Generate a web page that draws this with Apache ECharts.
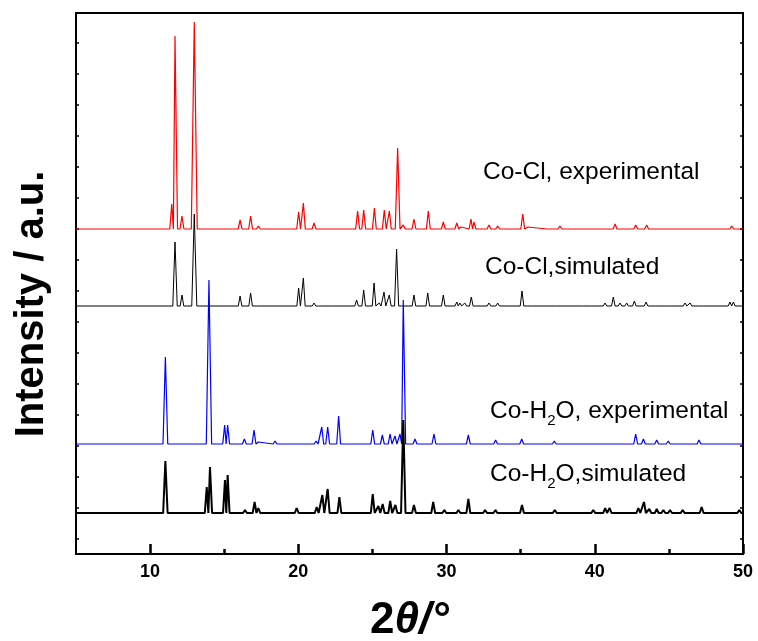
<!DOCTYPE html>
<html>
<head>
<meta charset="utf-8">
<script src="https://cdn.jsdelivr.net/npm/echarts@6/dist/echarts.min.js"></script>
<style>html,body{margin:0;padding:0;background:#fff}#c{width:758px;height:641px}</style>
</head>
<body>
<div id="c"></div>
<script>
// ---- data (2θ in degrees, intensity in a.u. above each trace's baseline, optional half-width) ----
const xTickLabels = [10, 20, 30, 40, 50];
const xMinorTicks = [15, 25, 35, 45];
const seriesNames = ['Co-Cl, experimental', 'Co-Cl,simulated', 'Co-H2O, experimental', 'Co-H2O,simulated'];
const seriesOffsets = [325, 248, 110, 41];

const coClExpPeaks = [[11.46,25],[11.68,193,0.17],[12.15,13],[12.98,207,0.2],[16.07,9],[16.78,13],[17.3,3],[20.02,17],[20.34,26],[21.06,6],[21.46,2],[22.25,2],[23.4,2],[24.0,18],[24.41,19],[25.13,21],[25.8,19],[26.14,18],[26.7,81,0.16],[27.08,4],[27.8,10],[28.77,18],[29.78,7],[30.69,6],[30.97,2],[31.65,10],[31.85,7],[32.86,4],[33.45,3],[35.14,15],[35.5,2],[36.9,2],[37.65,3],[39.19,2],[39.9,2],[40.76,2],[41.37,5],[42.15,2],[42.76,4],[43.5,4],[46.54,2],[47.5,2],[49.24,3]];

const coClSimPeaks = [[11.68,64,0.15],[12.15,11],[12.98,92,0.17],[16.07,10],[16.78,13],[17.3,2],[19.37,1],[20.02,18],[20.34,28],[21.06,3],[21.46,2],[22.2,1],[23.93,6],[24.41,16],[25.11,23],[25.46,3],[25.78,14],[26.14,11],[26.63,57,0.14],[27.08,2],[27.8,11],[28.73,13],[29.78,11],[30.69,4],[30.9,3],[31.23,3],[31.67,9],[32.86,3],[33.45,3],[35.09,15],[35.6,2],[37.54,2],[39.12,2],[39.9,2],[40.69,3],[41.25,9],[41.7,3],[42.15,3],[42.67,5],[43.46,4],[43.96,2],[44.63,2],[45.08,2],[46.09,3],[46.43,3],[47.21,2],[49.12,4],[49.35,4]];

const coH2OExpPeaks = [[11.03,87,0.16],[13.97,164,0.18],[15.03,19],[15.23,19],[16.36,5],[17.01,14],[17.3,2],[18.43,3],[19.89,2],[21.2,3],[21.58,17],[21.98,17],[22.72,28],[25.02,14],[25.67,9],[26.19,10],[26.52,8],[26.86,10],[27.08,144,0.16],[27.87,5],[29.15,10],[29.8,2],[30.9,2],[31.47,9],[32.26,2],[32.66,2],[33.31,4],[35.07,5],[36.53,2],[37.27,3],[39.1,2],[40.0,2],[41.03,2],[42.1,2],[42.76,10],[43.28,5],[44.18,4],[44.96,3],[45.93,2],[47.03,4],[49.41,2]];

const coH2OSimPeaks = [[11.03,52,0.15],[13.82,26],[14.04,46,0.14],[15.05,33],[15.23,38],[16.4,3],[17.05,11],[17.3,5],[18.45,2],[19.89,5],[21.24,6],[21.62,18],[21.98,24],[22.77,16],[25.02,19],[25.4,7],[25.69,9],[26.2,12],[26.55,8],[27.08,93,0.15],[27.8,8],[29.1,11],[29.85,3],[30.8,3],[31.47,14],[32.6,3],[33.3,3],[35.09,8],[37.3,3],[39.9,3],[40.7,5],[41.0,5],[42.1,2],[42.94,5],[43.32,11],[43.68,4],[44.18,4],[44.63,3],[45.08,3],[45.93,3],[47.21,6],[49.75,3]];

const X_MIN = 5, X_MAX = 50, Y_MAX = 541;

// build a stick-like trace: baseline, then each peak as foot-apex-foot
function buildTrace(peaks, offset, hwDefault) {
  const pts = [[X_MIN, offset]];
  for (let i = 0; i < peaks.length; i++) {
    const p = peaks[i][0], h = peaks[i][1], hw = peaks[i][2] || hwDefault;
    let l = p - hw, r = p + hw;
    if (i > 0) l = Math.max(l, (peaks[i - 1][0] + p) / 2);
    if (i < peaks.length - 1) r = Math.min(r, (p + peaks[i + 1][0]) / 2);
    pts.push([l, offset], [p, offset + h], [r, offset]);
  }
  pts.push([X_MAX, offset]);
  return pts;
}

const yTicks = [];
for (let k = 0; k < 17; k++) yTicks.push(15.5 + 31 * k);

const FONT = "'Liberation Sans', Arial, sans-serif";
const chart = echarts.init(document.getElementById('c'), null, {renderer: 'canvas'});

const lineStyles = [
  {color: '#ff0000', width: 1.2},
  {color: '#000000', width: 1},
  {color: '#0000ff', width: 1.2},
  {color: '#000000', width: 2}
];
const peakSets = [coClExpPeaks, coClSimPeaks, coH2OExpPeaks, coH2OSimPeaks];
const hwDefaults = [0.13, 0.12, 0.13, 0.13];

const subRich = {
  a: {fontFamily: FONT, fontSize: 24.5, fill: '#000', lineHeight: 28},
  s: {fontFamily: FONT, fontSize: 15, fill: '#000', lineHeight: 35, verticalAlign: 'bottom'}
};

const option = {
  animation: false,
  backgroundColor: '#fff',
  grid: {left: 76, right: 15, top: 13, bottom: 87, show: true, borderColor: '#000', borderWidth: 2, outerBoundsMode: 'none', containLabel: false},
  xAxis: [{
    type: 'value', min: X_MIN, max: X_MAX, interval: 5, position: 'bottom',
    axisLine: {show: true, lineStyle: {color: '#000', width: 2}},
    axisTick: {show: true, inside: true, length: 10, lineStyle: {color: '#000', width: 2.5}, customValues: xTickLabels},
    axisLabel: {show: true, margin: 9, color: '#000', fontFamily: FONT, fontWeight: 'bold', fontSize: 18, customValues: xTickLabels},
    splitLine: {show: false},
    name: '{n|2}{t|θ/°}', nameLocation: 'middle', nameGap: 45,
    nameTextStyle: {rich: {
      n: {fontFamily: FONT, fontWeight: 'bold', fontSize: 44, color: '#000'},
      t: {fontFamily: FONT, fontWeight: 'bold', fontStyle: 'italic', fontSize: 44, color: '#000'}
    }}
  }, {
    type: 'value', min: X_MIN, max: X_MAX, interval: 5, position: 'bottom',
    axisLine: {show: true, lineStyle: {color: '#000', width: 2}},
    axisTick: {show: true, inside: true, length: 5, lineStyle: {color: '#000', width: 2.5}, customValues: xMinorTicks},
    axisLabel: {show: false},
    splitLine: {show: false}
  }],
  yAxis: [{
    type: 'value', min: 0, max: Y_MAX, position: 'left',
    axisLine: {show: true, lineStyle: {color: '#000', width: 2}},
    axisTick: {show: true, inside: true, length: 3, lineStyle: {color: '#000', width: 1.5}, customValues: yTicks},
    axisLabel: {show: false},
    splitLine: {show: false}
  }, {
    type: 'value', min: 0, max: Y_MAX, position: 'right',
    axisLine: {show: true, lineStyle: {color: '#000', width: 2}},
    axisTick: {show: true, inside: true, length: 3, lineStyle: {color: '#000', width: 1.5}, customValues: yTicks},
    axisLabel: {show: false},
    splitLine: {show: false}
  }],
  series: peakSets.map((pk, i) => ({
    name: seriesNames[i],
    type: 'line',
    xAxisIndex: 0, yAxisIndex: 0,
    data: buildTrace(pk, seriesOffsets[i], hwDefaults[i]),
    showSymbol: false, symbol: 'none',
    lineStyle: lineStyles[i],
    silent: true
  })),
  graphic: [
    {type: 'text', rotation: Math.PI / 2, x: 32, y: 304,
     style: {text: 'Intensity / a.u.', fontFamily: FONT, fontWeight: 'bold', fontSize: 40, fill: '#000', align: 'center', verticalAlign: 'middle'}},
    {type: 'text', x: 483, y: 172,
     style: {text: 'Co-Cl, experimental', fontFamily: FONT, fontSize: 24.5, fill: '#000', align: 'left', verticalAlign: 'middle'}},
    {type: 'text', x: 485, y: 267,
     style: {text: 'Co-Cl,simulated', fontFamily: FONT, fontSize: 24.5, fill: '#000', align: 'left', verticalAlign: 'middle'}},
    {type: 'text', x: 490, y: 411,
     style: {text: '{a|Co-H}{s|2}{a|O, experimental}', align: 'left', verticalAlign: 'middle', rich: subRich}},
    {type: 'text', x: 490, y: 474,
     style: {text: '{a|Co-H}{s|2}{a|O,simulated}', align: 'left', verticalAlign: 'middle', rich: subRich}}
  ]
};
chart.setOption(option);
</script>
</body>
</html>
